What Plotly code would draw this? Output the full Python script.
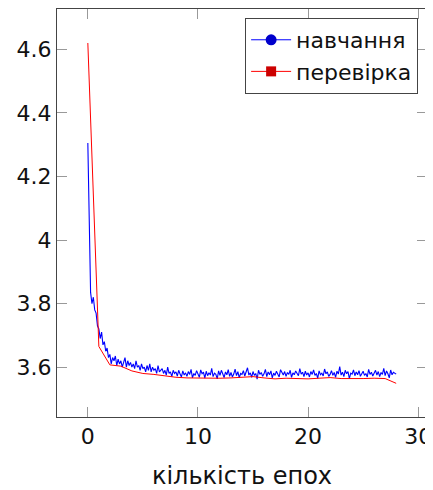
import plotly.graph_objects as go

# training loss, 8 readings per epoch (epochs 0..27) plus the final one at 28
steps_per_epoch = 8
train_loss = [
    4.305, 4.050, 3.835, 3.800, 3.820, 3.780, 3.770, 3.730,
    3.720, 3.690, 3.710, 3.670, 3.680, 3.650, 3.660, 3.630,
    3.640, 3.610, 3.630, 3.620, 3.635, 3.605, 3.625, 3.610,
    3.620, 3.600, 3.615, 3.630, 3.600, 3.620, 3.605, 3.615,
    3.600, 3.610, 3.595, 3.620, 3.600, 3.605, 3.590, 3.610,
    3.595, 3.600, 3.585, 3.605, 3.590, 3.610, 3.585, 3.600,
    3.590, 3.595, 3.580, 3.605, 3.585, 3.590, 3.595, 3.580,
    3.590, 3.575, 3.600, 3.580, 3.585, 3.570, 3.590, 3.580,
    3.585, 3.572, 3.590, 3.578, 3.569, 3.588, 3.575, 3.582,
    3.571, 3.586, 3.577, 3.593, 3.566, 3.580, 3.574, 3.589,
    3.576, 3.568, 3.591, 3.579, 3.584, 3.565, 3.587, 3.573,
    3.582, 3.575, 3.596, 3.570, 3.581, 3.577, 3.563, 3.588,
    3.574, 3.590, 3.579, 3.567, 3.585, 3.576, 3.592, 3.571,
    3.583, 3.569, 3.578, 3.594, 3.573, 3.586, 3.566, 3.580,
    3.577, 3.589, 3.572, 3.584, 3.598, 3.575, 3.582, 3.568,
    3.586, 3.574, 3.580, 3.562, 3.590, 3.577, 3.583, 3.571,
    3.579, 3.593, 3.570, 3.585, 3.576, 3.588, 3.566, 3.581,
    3.574, 3.587, 3.578, 3.569, 3.592, 3.580, 3.575, 3.586,
    3.571, 3.583, 3.577, 3.590, 3.568, 3.582, 3.576, 3.588,
    3.580, 3.573, 3.595, 3.578, 3.584, 3.570, 3.587, 3.575,
    3.582, 3.569, 3.586, 3.577, 3.591, 3.574, 3.580, 3.565,
    3.588, 3.576, 3.581, 3.572, 3.594, 3.579, 3.585, 3.571,
    3.577, 3.589, 3.574, 3.583, 3.568, 3.587, 3.578, 3.602,
    3.575, 3.584, 3.570, 3.590, 3.579, 3.586, 3.564, 3.581,
    3.578, 3.591, 3.573, 3.585, 3.576, 3.589, 3.571, 3.582,
    3.587, 3.574, 3.580, 3.569, 3.593, 3.577, 3.584, 3.572,
    3.579, 3.590, 3.575, 3.586, 3.570, 3.583, 3.577, 3.596,
    3.573, 3.588, 3.579, 3.566, 3.591, 3.576, 3.584, 3.580,
    3.578,
]
train_epochs = [i / steps_per_epoch for i in range(len(train_loss))]

# validation loss, one value per epoch
val_epochs = list(range(29))
val_loss = [
    4.620, 3.665, 3.607, 3.603, 3.588, 3.580, 3.577, 3.572, 3.568, 3.566,
    3.565, 3.566, 3.565, 3.566, 3.568, 3.570, 3.566, 3.563, 3.565, 3.564,
    3.563, 3.565, 3.567, 3.564, 3.563, 3.564, 3.565, 3.564, 3.549,
]

y_ticks = [3.6, 3.8, 4.0, 4.2, 4.4, 4.6]
y_tick_labels = ['3.6', '3.8', '4', '4.2', '4.4', '4.6']
x_ticks = [0, 10, 20, 30]

font = 'DejaVu Sans'
text_color = '#111111'

fig = go.Figure()

fig.add_trace(go.Scatter(x=train_epochs, y=train_loss, mode='lines',
                         line=dict(color='#0000ff', width=1.1), showlegend=False))
fig.add_trace(go.Scatter(x=val_epochs, y=val_loss, mode='lines',
                         line=dict(color='#ff0000', width=1), showlegend=False))

# legend entries (line + marker like pgfplots)
fig.add_trace(go.Scatter(x=[None], y=[None], mode='lines+markers', name='навчання',
                         line=dict(color='#0000ff', width=1),
                         marker=dict(symbol='circle', size=11, color='#0000cc')))
fig.add_trace(go.Scatter(x=[None], y=[None], mode='lines+markers', name='перевірка',
                         line=dict(color='#ff0000', width=1),
                         marker=dict(symbol='square', size=10, color='#cc0000')))

axis_style = dict(showline=True, linecolor='#444444', linewidth=1, mirror='ticks',
                  ticks='inside', ticklen=10, tickcolor='#999999', tickwidth=1,
                  showgrid=False, zeroline=False, automargin=False,
                  tickfont=dict(family=font, size=22, color=text_color))

fig.update_xaxes(range=[-2.8, 30.8], tickvals=x_ticks,
                 title=dict(text='кількість епох', font=dict(family=font, size=24, color=text_color),
                            standoff=20),
                 **axis_style)
fig.update_yaxes(range=[3.443, 4.727], tickvals=y_ticks, ticktext=y_tick_labels,
                 **axis_style)

# the page body adds an 8px offset, so the figure is a bit smaller than the window
fig.update_layout(
    width=425, height=482,
    margin=dict(l=49, r=6, t=1, b=73),
    plot_bgcolor='white', paper_bgcolor='white',
    legend=dict(x=0.976, y=0.978, xanchor='right', yanchor='top',
                bgcolor='white', bordercolor='#444444', borderwidth=1,
                font=dict(family=font, size=22, color=text_color),
                tracegroupgap=0, itemwidth=40),
)

fig.write_html('out.html')
